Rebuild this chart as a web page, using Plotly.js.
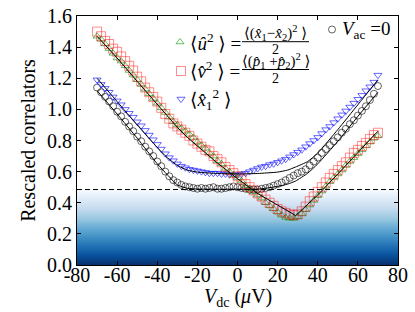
<!DOCTYPE html>
<html><head><meta charset="utf-8">
<script src="https://cdn.plot.ly/plotly-3.0.1.min.js"></script>
<style>html,body{margin:0;padding:0;background:#fff}</style>
</head><body><div id="chart" style="width:415px;height:312px"></div>
<script>
// ---- data ----
const vdc = [-70,-68,-66,-64,-62,-60,-58,-56,-54,-52,-50,-48,-46,-44,-42,-40,-38,-36,-34,-32,-30,-28,-26,-24,-22,-20,-18,-16,-14,-12,-10,-8,-6,-4,-2,0,2,4,6,8,10,12,14,16,18,20,22,24,26,28,30,32,34,36,38,40,42,44,46,48,50,52,54,56,58,60,62,64,66,68,70];

const uSq = [1.47,1.45,1.42,1.39,1.36,1.33,1.31,1.28,1.25,1.22,1.19,
  1.16,1.13,1.10,1.07,1.04,1.01,0.98,0.95,0.92,0.90,
  0.88,0.86,0.84,0.82,0.79,0.77,0.75,0.72,0.70,0.67,
  0.65,0.62,0.60,0.58,0.56,0.54,0.51,0.49,0.47,0.45,
  0.43,0.40,0.38,0.36,0.34,0.32,0.305,0.30,0.30,0.31,
  0.33,0.355,0.385,0.415,0.445,0.475,0.505,0.535,0.56,0.585,
  0.61,0.64,0.665,0.69,0.715,0.74,0.765,0.79,0.815,0.83];

const vSq = [1.50,1.47,1.44,1.42,1.39,1.37,1.34,1.31,1.28,1.25,1.21,
  1.18,1.14,1.11,1.08,1.05,1.01,0.97,0.94,0.91,0.89,
  0.87,0.85,0.83,0.80,0.78,0.76,0.74,0.73,0.70,0.68,
  0.66,0.63,0.61,0.59,0.57,0.55,0.52,0.50,0.48,0.46,
  0.44,0.42,0.40,0.38,0.36,0.345,0.335,0.325,0.32,0.325,
  0.345,0.375,0.41,0.44,0.47,0.50,0.53,0.56,0.585,0.61,
  0.635,0.66,0.69,0.72,0.74,0.765,0.785,0.81,0.835,0.85];

const x1Sq = [1.19,1.16,1.135,1.11,1.08,1.055,1.03,1.00,0.975,0.95,0.92,
  0.895,0.865,0.835,0.805,0.775,0.745,0.715,0.69,0.67,0.65,
  0.635,0.625,0.615,0.61,0.605,0.60,0.595,0.59,0.59,0.59,
  0.585,0.585,0.58,0.58,0.58,0.585,0.59,0.60,0.61,0.62,
  0.63,0.635,0.645,0.65,0.66,0.67,0.68,0.695,0.71,0.725,
  0.74,0.76,0.78,0.80,0.82,0.845,0.87,0.89,0.915,0.94,
  0.965,0.99,1.015,1.04,1.065,1.09,1.12,1.145,1.175,1.22];

const vac0 = [1.14,1.11,1.08,1.05,1.02,0.985,0.955,0.92,0.89,0.86,0.825,
  0.795,0.76,0.73,0.70,0.665,0.635,0.60,0.57,0.545,0.53,
  0.515,0.505,0.50,0.495,0.49,0.495,0.49,0.495,0.50,0.49,
  0.49,0.495,0.50,0.505,0.50,0.495,0.49,0.485,0.485,0.485,
  0.49,0.495,0.50,0.51,0.52,0.53,0.545,0.56,0.575,0.59,
  0.60,0.615,0.64,0.665,0.69,0.72,0.745,0.77,0.795,0.82,
  0.85,0.875,0.905,0.93,0.96,0.99,1.02,1.06,1.10,1.15];

// theory curves (black lines), read at knots
const fitV  = [-70,-60,-50,-40,-35,-30,-25,-20,-10,0,10,20,25,29,35,40,50,60,70];
const uvFit = [1.47,1.33,1.18,1.03,0.955,0.885,0.82,0.765,0.655,0.555,0.46,0.385,0.35,0.318,0.39,0.45,0.585,0.72,0.86];
const x1Fit = [1.20,1.05,0.90,0.755,0.69,0.64,0.61,0.597,0.588,0.585,0.588,0.597,0.61,0.63,0.665,0.72,0.87,1.03,1.19];
const acFit = [1.12,0.97,0.815,0.65,0.58,0.515,0.493,0.488,0.487,0.487,0.487,0.505,0.52,0.54,0.59,0.65,0.795,0.955,1.11];

const limitLevel = 0.485;           // dashed line / shaded region top
const bandX = [-80, 80, 80, -80];
const bandY = [0, 0, limitLevel, limitLevel];

const xTicks = [-80,-60,-40,-20,0,20,40,60,80];
const xTickText = ['-80','-60','-40','-20','0','20','40','60','80'];
const yTicks = [0,0.2,0.4,0.6,0.8,1.0,1.2,1.4,1.6];

// ---- layout helpers (pixel -> paper) ----
const L = 77, R = 398, T = 16, B = 265;
const px = p => (p - L) / (R - L);
const py = p => (B - p) / (B - T);

const blues = [[0,'#08306b'],[0.125,'#08519c'],[0.25,'#2171b5'],[0.375,'#4292c6'],
               [0.5,'#6baed6'],[0.625,'#9ecae1'],[0.75,'#c6dbef'],[0.875,'#deebf7'],[1,'#f7fbff']];

const traces = [
  {type:'scatter', x:bandX, y:bandY, fill:'toself', mode:'none',
   fillgradient:{type:'vertical', colorscale:blues, start:0, stop:limitLevel},
   hoverinfo:'skip', showlegend:false},
  {type:'scatter', mode:'markers', x:vdc, y:vac0, name:' ', legend:'legend4',
   marker:{symbol:'circle-open', size:7, color:'rgba(0,0,0,0.6)', line:{width:1}}},
  {type:'scatter', mode:'markers', x:vdc, y:x1Sq, name:' ', legend:'legend3',
   marker:{symbol:'triangle-down-open', size:7, color:'rgba(0,0,255,0.6)', line:{width:1}}},
  {type:'scatter', mode:'markers', x:vdc, y:uSq, name:' ', legend:'legend',
   marker:{symbol:'triangle-up-open', size:7, color:'rgba(0,150,0,0.6)', line:{width:1}}},
  {type:'scatter', mode:'markers', x:vdc, y:vSq, name:' ', legend:'legend2',
   marker:{symbol:'square-open', size:9, color:'rgba(255,0,0,0.45)', line:{width:1}}},
  {type:'scatter', mode:'lines', x:fitV, y:uvFit, showlegend:false, line:{color:'black', width:1}},
  {type:'scatter', mode:'lines', x:fitV, y:x1Fit, showlegend:false, line:{color:'black', width:1, shape:'spline', smoothing:0.5}},
  {type:'scatter', mode:'lines', x:fitV, y:acFit, showlegend:false, line:{color:'black', width:1, shape:'spline', smoothing:0.5}}
];

const legBase = {xanchor:'left', yanchor:'middle', bgcolor:'rgba(0,0,0,0)', borderwidth:0, font:{size:12}};
const ann = (x, y, text, size, anchor) => ({xref:'paper', yref:'paper', x:x, y:y, text:text, showarrow:false,
  xanchor:anchor||'left', yanchor:'middle', font:{size:size}});

const layout = {
  width:415, height:312,
  margin:{l:L, r:415-R, t:T, b:312-B},
  paper_bgcolor:'white', plot_bgcolor:'white',
  font:{family:'Liberation Serif, DejaVu Serif, serif', size:20, color:'black'},
  xaxis:{range:[-80,80], tickvals:xTicks, ticktext:xTickText, ticks:'inside', ticklen:4, tickcolor:'black',
    mirror:'ticks', showline:true, linecolor:'black', linewidth:1, showgrid:false, zeroline:false,
    ticklabelstandoff:-8, title:{text:''}},
  yaxis:{range:[0,1.6], tickvals:yTicks, tickformat:'.1f', ticks:'inside', ticklen:4, tickcolor:'black',
    mirror:'ticks', showline:true, linecolor:'black', linewidth:1, showgrid:false, zeroline:false,
    title:{text:'Rescaled correlators', font:{size:20}, standoff:6}},
  legend: Object.assign({x:px(160), y:py(42)}, legBase),
  legend2:Object.assign({x:px(161), y:py(71)}, legBase),
  legend3:Object.assign({x:px(161), y:py(99)}, legBase),
  legend4:Object.assign({x:px(312), y:py(29.5)}, legBase),
  shapes:[
    {type:'line', xref:'paper', yref:'y', x0:0, x1:1, y0:limitLevel, y1:limitLevel, line:{color:'black', width:1, dash:'5px,3px'}},
    {type:'line', xref:'paper', yref:'paper', x0:px(242), x1:px(309), y0:py(41.7), y1:py(41.7), line:{color:'black', width:1}},
    {type:'line', xref:'paper', yref:'paper', x0:px(242), x1:px(309), y0:py(69.5), y1:py(69.5), line:{color:'black', width:1}}
  ],
  annotations:[
    ann(0.5, py(297), '<i>V</i><sub>dc</sub> (<i>μ</i>V)', 20, 'center'),
    ann(px(188), py(42), '⟨<i>û</i><sup>2</sup> ⟩ =', 19),
    ann(px(275.5), py(32.5), '⟨(<i>x̂</i><sub>1</sub>−<i>x̂</i><sub>2</sub>)<sup>2</sup> ⟩', 15, 'center'),
    ann(px(275.5), py(49.5), '2', 14, 'center'),
    ann(px(188), py(70.5), '⟨<i>v̂</i><sup>2</sup> ⟩ =', 19),
    ann(px(275.5), py(61), '⟨(<i>p̂</i><sub>1</sub> +<i>p̂</i><sub>2</sub>)<sup>2</sup> ⟩', 15, 'center'),
    ann(px(275.5), py(78.5), '2', 14, 'center'),
    ann(px(188), py(99), '⟨<i>x̂</i><sub>1</sub><sup>2</sup> ⟩', 19),
    ann(px(340), py(30), '<i>V</i><sub>ac</sub> =0', 19)
  ]
};

Plotly.newPlot('chart', traces, layout, {displayModeBar:false, staticPlot:true});
</script></body></html>
